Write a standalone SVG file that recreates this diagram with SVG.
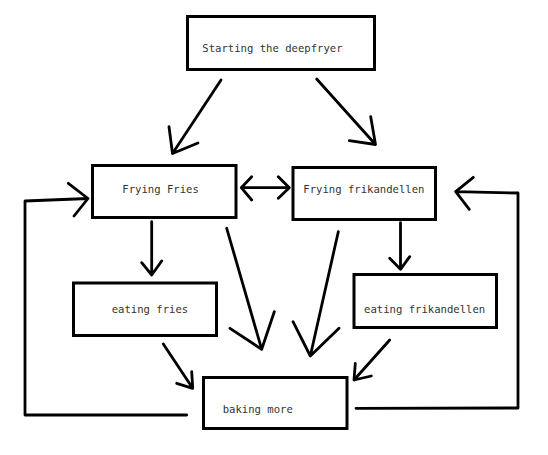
<svg xmlns="http://www.w3.org/2000/svg" width="548" height="455" viewBox="0 0 548 455">
<style>
.box{fill:#fff;stroke:#000;stroke-width:3}
.lbl{font-family:"DejaVu Sans Mono","Liberation Mono",monospace;font-size:10.6px;fill:#333}
.c{fill:none;stroke:#000;stroke-width:2.8;stroke-linecap:round;stroke-linejoin:round}
</style>
<rect width="548" height="455" fill="#fff"/>
<g id="connectors">
<path class="c" d="M221 80L172.5 153.5M169 126.7L172.5 153.5L198 143"/>
<path class="c" d="M316.7 79L375.5 144.5M370.7 116.7L375.5 144.5L349.3 140.7"/>
<path class="c" d="M241.3 187.7H289.3M251.7 176.7L241.3 187.7L251.7 200M278.3 176.7L289.3 187.7L278.3 198.3"/>
<path class="c" d="M151.7 221.7V275M141.7 262.7L151.7 275L161.7 261"/>
<path class="c" d="M400.5 222.7V269.3M389.7 258.3L400.5 269.3L409.7 256.7"/>
<path class="c" d="M226.7 228.3L261.7 349.3M230 328.3L261.7 349.3L274.3 311.7"/>
<path class="c" d="M338.3 231.7L310.3 356M293 321.7L310.3 356L339 328.3"/>
<path class="c" d="M163.3 344L192.7 388.3M176.7 383.3L192.7 388.3L191.7 371.7"/>
<path class="c" d="M389.7 340L354 380M355.3 363.3L354 380L371.3 376"/>
<path class="c" d="M186.7 415H25V201L88 198.5M68.3 183.3L88 198.5L74 216"/>
<path class="c" d="M356 408.3L518 408V193L455.7 191.7M473.3 177.3L455.7 191.7L469.3 209.3"/>
</g>
<g id="start">
<rect class="box" x="187.5" y="16.5" width="187" height="53"/>
<text class="lbl" x="202.3" y="51.7">Starting the deepfryer</text>
</g>
<g id="frying-fries">
<rect class="box" x="92.5" y="165.5" width="143.5" height="52"/>
<text class="lbl" x="122.3" y="192.7">Frying Fries</text>
</g>
<g id="frying-frikandellen">
<rect class="box" x="293" y="167.5" width="142.5" height="52"/>
<text class="lbl" x="303.3" y="192.7">Frying frikandellen</text>
</g>
<g id="eating-fries">
<rect class="box" x="73.5" y="283" width="143" height="52.5"/>
<text class="lbl" x="111.7" y="312.7">eating fries</text>
</g>
<g id="eating-frikandellen">
<rect class="box" x="354" y="274.5" width="142.5" height="53"/>
<text class="lbl" x="364" y="312.7">eating frikandellen</text>
</g>
<g id="baking-more">
<rect class="box" x="203.5" y="377.5" width="143.5" height="51"/>
<text class="lbl" x="222.7" y="413.3">baking more</text>
</g>
</svg>
